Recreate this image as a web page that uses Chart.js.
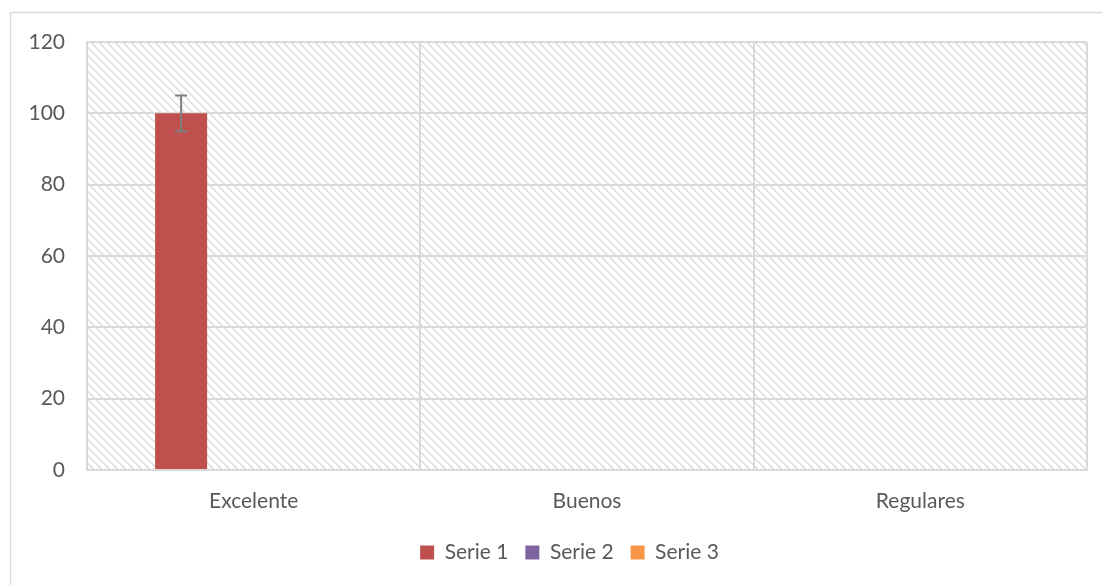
<!DOCTYPE html>
<html>
<head>
<meta charset="utf-8">
<script src="https://cdn.jsdelivr.net/npm/chart.js@4.4.0/dist/chart.umd.min.js"></script>
<style>
  html, body { margin: 0; padding: 0; background: #fff; }
  #wrap { position: relative; width: 1102px; height: 585px; }
</style>
</head>
<body>
<div id="wrap"><canvas id="chart" width="1102" height="585"></canvas></div>
<script>
// Data
const categories = ['Excelente', 'Buenos', 'Regulares'];
const serie1 = [100, 0, 0];
const serie2 = [0, 0, 0];
const serie3 = [0, 0, 0];
const serie1Err = [5, 0, 0];
const seriesNames = ['Serie 1', 'Serie 2', 'Serie 3'];

const COLORS = {
  s1: '#C0504D',
  s2: '#8064A2',
  s3: '#F79646',
  grid: '#d9d9d9',
  text: '#595959',
  err: '#7f7f7f'
};

const FONT = "Lato, 'Open Sans', sans-serif";

// Excel-like "wide downward diagonal" hatch
function makeHatch() {
  const c = document.createElement('canvas');
  c.width = 8; c.height = 8;
  const g = c.getContext('2d');
  g.fillStyle = '#ffffff';
  g.fillRect(0, 0, 8, 8);
  g.fillStyle = '#dcdcdc';
  for (let y = 0; y < 8; y++) {
    for (let k = 0; k < 2; k++) {
      g.fillRect((y + k) % 8, y, 1, 1);
    }
  }
  return g.createPattern(c, 'repeat');
}

const hatchBg = {
  id: 'hatchBg',
  beforeDraw(chart) {
    const { ctx, chartArea: a } = chart;
    ctx.save();
    // outer chart frame
    ctx.strokeStyle = '#d9d9d9';
    ctx.lineWidth = 1.5;
    ctx.strokeRect(10.5, 12.5, 1102, 590);
    ctx.fillStyle = makeHatch();
    ctx.fillRect(a.left, a.top, a.right - a.left, a.bottom - a.top);
    ctx.restore();
  }
};

// legend sits a bit right of the canvas centre in the original
const legendShift = {
  id: 'legendShift',
  afterLayout(chart) {
    chart.legend.left += 21;
    chart.legend.right += 21;
  }
};

const errorBars = {
  id: 'errorBars',
  afterDatasetsDraw(chart) {
    const { ctx, scales } = chart;
    chart.data.datasets.forEach((ds, i) => {
      if (!ds.errors) return;
      const meta = chart.getDatasetMeta(i);
      meta.data.forEach((bar, j) => {
        const e = ds.errors[j];
        if (!e) return;
        const v = ds.data[j];
        const yTop = scales.y.getPixelForValue(v + e);
        const yBot = scales.y.getPixelForValue(v - e);
        ctx.save();
        ctx.strokeStyle = COLORS.err;
        ctx.lineWidth = 2;
        ctx.beginPath();
        ctx.moveTo(bar.x, yTop); ctx.lineTo(bar.x, yBot);
        ctx.moveTo(bar.x - 6, yTop); ctx.lineTo(bar.x + 6, yTop);
        ctx.moveTo(bar.x - 6, yBot); ctx.lineTo(bar.x + 6, yBot);
        ctx.stroke();
        ctx.restore();
      });
    });
  }
};

Chart.defaults.font.family = FONT;
Chart.defaults.color = COLORS.text;

new Chart(document.getElementById('chart'), {
  type: 'bar',
  data: {
    labels: categories,
    datasets: [
      { label: seriesNames[0], data: serie1, errors: serie1Err, backgroundColor: COLORS.s1 },
      { label: seriesNames[1], data: serie2, backgroundColor: COLORS.s2 },
      { label: seriesNames[2], data: serie3, backgroundColor: COLORS.s3 }
    ]
  },
  options: {
    responsive: false,
    animation: false,
    devicePixelRatio: 1,
    categoryPercentage: 0.653,
    barPercentage: 0.717,
    layout: { padding: { left: 10, top: 42, right: 15, bottom: 12 } },
    plugins: {
      tooltip: { enabled: false },
      legend: {
        position: 'bottom',
        labels: {
          boxWidth: 14,
          boxHeight: 14,
          padding: 17,
          font: { size: 21 },
          color: COLORS.text
        }
      }
    },
    scales: {
      x: {
        grid: { color: COLORS.grid, lineWidth: 2, drawTicks: false, offset: true },
        border: { color: COLORS.grid, width: 2 },
        ticks: { font: { size: 21 }, color: COLORS.text, padding: 19 },
        afterFit(s) { s.height = 55; }
      },
      y: {
        min: 0,
        max: 120,
        ticks: { stepSize: 20, font: { size: 21 }, color: COLORS.text, padding: 22 },
        grid: { color: COLORS.grid, lineWidth: 2, drawTicks: false },
        border: { color: COLORS.grid, width: 2 },
        afterFit(s) { s.width = 77; }
      }
    }
  },
  plugins: [hatchBg, legendShift, errorBars]
});
</script>
</body>
</html>
